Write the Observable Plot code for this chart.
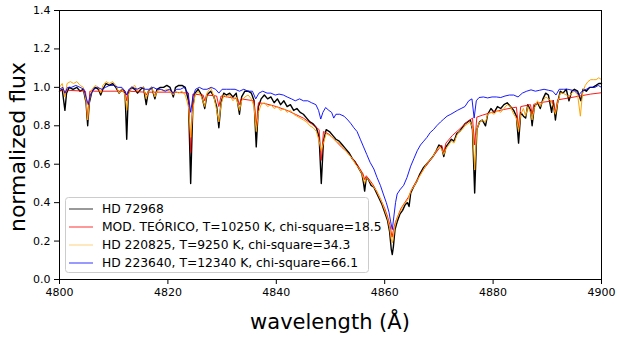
<!DOCTYPE html>
<html><head><meta charset="utf-8">
<script src="https://cdn.jsdelivr.net/npm/d3@7"></script>
<script src="https://cdn.jsdelivr.net/npm/@observablehq/plot@0.6"></script>
<style>body{margin:0;background:#fff;} #chart{width:622px;height:339px;}</style>
</head><body><div id="chart"></div>
<script>
const xTicks = [4800, 4820, 4840, 4860, 4880, 4900];
const yTicks = [0.0, 0.2, 0.4, 0.6, 0.8, 1.0, 1.2, 1.4];
const xLabel = "wavelength (Å)";
const yLabel = "normalized flux";
const seriesNames = [
  "HD 72968",
  "MOD. TEÓRICO, T=10250 K, chi-square=18.5",
  "HD 220825, T=9250 K, chi-square=34.3",
  "HD 223640, T=12340 K, chi-square=66.1"
];

// [wavelength, normalized flux]
const hd72968 = [[4800.0,0.98],[4800.5,0.99],[4801.0,0.88],[4801.3,0.97],[4801.8,1.00],[4802.5,0.99],[4803.2,1.00],[4803.8,0.98],[4804.4,0.99],[4804.9,0.92],[4805.2,0.80],[4805.5,0.92],[4806.0,0.98],[4806.6,1.00],[4807.2,0.99],[4807.6,0.96],[4808.0,0.99],[4808.6,1.02],[4809.2,1.01],[4809.8,1.02],[4810.4,1.00],[4811.0,0.97],[4811.5,0.99],[4812.1,0.97],[4812.4,0.73],[4812.7,0.97],[4813.3,1.00],[4813.9,0.99],[4814.4,0.97],[4815.0,0.99],[4815.5,1.00],[4816.0,0.91],[4816.4,0.98],[4817.0,1.00],[4817.6,0.94],[4818.0,0.99],[4818.6,1.00],[4819.2,1.00],[4819.8,1.01],[4820.4,1.00],[4821.0,0.95],[4821.4,1.00],[4822.0,1.01],[4822.6,1.01],[4823.2,1.00],[4823.8,0.93],[4824.2,0.50],[4824.6,0.90],[4825.0,0.97],[4825.6,0.99],[4826.2,0.96],[4826.8,0.89],[4827.2,0.96],[4827.9,0.98],[4828.5,0.95],[4829.0,0.90],[4829.4,0.79],[4829.8,0.92],[4830.3,0.97],[4830.8,0.96],[4831.4,0.97],[4832.0,0.95],[4832.6,0.97],[4833.2,0.86],[4833.6,0.95],[4834.2,0.98],[4834.8,0.98],[4835.4,0.97],[4835.9,0.93],[4836.3,0.69],[4836.7,0.90],[4837.2,0.94],[4837.8,0.96],[4838.4,0.94],[4839.0,0.95],[4839.6,0.92],[4840.2,0.94],[4840.8,0.91],[4841.4,0.93],[4842.0,0.90],[4842.6,0.91],[4843.2,0.88],[4843.8,0.89],[4844.4,0.87],[4845.0,0.86],[4845.6,0.84],[4846.2,0.82],[4846.8,0.81],[4847.4,0.79],[4847.9,0.74],[4848.3,0.50],[4848.7,0.72],[4849.2,0.78],[4849.8,0.77],[4850.4,0.75],[4851.0,0.73],[4851.6,0.72],[4852.2,0.70],[4852.8,0.68],[4853.4,0.66],[4854.0,0.63],[4854.6,0.61],[4855.2,0.58],[4855.8,0.55],[4856.1,0.50],[4856.3,0.46],[4856.6,0.53],[4857.0,0.52],[4857.5,0.49],[4858.0,0.48],[4858.5,0.45],[4859.0,0.42],[4859.5,0.39],[4860.0,0.35],[4860.5,0.31],[4860.9,0.25],[4861.2,0.16],[4861.4,0.13],[4861.6,0.17],[4861.9,0.26],[4862.3,0.30],[4862.8,0.34],[4863.3,0.36],[4863.8,0.39],[4864.2,0.40],[4864.5,0.38],[4864.8,0.45],[4865.3,0.48],[4865.9,0.51],[4866.5,0.55],[4867.1,0.58],[4867.7,0.60],[4868.3,0.62],[4868.9,0.64],[4869.5,0.67],[4870.0,0.70],[4870.5,0.69],[4870.9,0.64],[4871.3,0.69],[4871.8,0.71],[4872.3,0.73],[4872.8,0.72],[4873.3,0.76],[4873.8,0.77],[4874.3,0.79],[4874.8,0.81],[4875.3,0.82],[4875.8,0.83],[4876.2,0.78],[4876.6,0.45],[4877.0,0.78],[4877.5,0.82],[4878.0,0.83],[4878.6,0.80],[4879.0,0.86],[4879.6,0.89],[4880.2,0.87],[4880.8,0.90],[4881.4,0.89],[4882.0,0.91],[4882.6,0.92],[4883.2,0.90],[4883.8,0.88],[4884.3,0.85],[4884.7,0.71],[4885.1,0.87],[4885.6,0.85],[4886.0,0.84],[4886.4,0.91],[4886.9,0.88],[4887.2,0.80],[4887.6,0.90],[4888.2,0.92],[4888.7,0.89],[4889.2,0.94],[4889.7,0.97],[4890.2,0.96],[4890.8,0.87],[4891.1,0.93],[4891.5,0.83],[4891.9,0.92],[4892.4,0.98],[4892.9,0.97],[4893.5,0.99],[4894.0,0.93],[4894.5,0.98],[4895.0,0.99],[4895.6,0.98],[4896.2,0.93],[4896.6,0.99],[4897.2,0.98],[4897.8,1.00],[4898.4,1.00],[4899.0,1.01],[4899.5,1.02],[4900.0,1.02]];

const modelo = [[4800.0,0.985],[4800.8,0.985],[4801.0,0.96],[4801.3,0.985],[4804.8,0.98],[4805.2,0.83],[4805.6,0.98],[4812.1,0.98],[4812.4,0.93],[4812.7,0.98],[4815.8,0.975],[4816.0,0.96],[4816.3,0.975],[4821.0,0.975],[4823.8,0.97],[4824.2,0.66],[4824.6,0.965],[4826.5,0.96],[4826.8,0.93],[4827.1,0.96],[4829.0,0.955],[4829.4,0.90],[4829.8,0.955],[4831.0,0.95],[4832.9,0.94],[4833.2,0.91],[4833.5,0.94],[4835.9,0.93],[4836.3,0.80],[4836.7,0.92],[4838.0,0.915],[4840.0,0.90],[4842.0,0.88],[4843.5,0.86],[4845.0,0.84],[4846.5,0.81],[4847.9,0.78],[4848.3,0.62],[4848.7,0.77],[4849.7,0.757],[4851.0,0.72],[4852.0,0.69],[4853.0,0.665],[4854.0,0.63],[4855.0,0.595],[4856.0,0.55],[4856.3,0.52],[4856.6,0.54],[4857.7,0.50],[4858.5,0.46],[4859.2,0.42],[4860.0,0.37],[4860.5,0.33],[4861.0,0.28],[4861.35,0.22],[4861.7,0.27],[4862.0,0.30],[4863.0,0.37],[4864.4,0.43],[4865.0,0.47],[4866.0,0.52],[4867.2,0.575],[4868.4,0.62],[4869.6,0.665],[4870.5,0.70],[4870.9,0.66],[4871.3,0.71],[4872.5,0.75],[4873.7,0.78],[4875.2,0.82],[4876.2,0.84],[4876.6,0.70],[4877.0,0.845],[4878.0,0.855],[4880.0,0.872],[4882.0,0.885],[4884.3,0.897],[4884.7,0.79],[4885.1,0.90],[4886.9,0.91],[4887.2,0.86],[4887.5,0.912],[4889.0,0.922],[4891.1,0.93],[4891.5,0.87],[4891.9,0.935],[4894.0,0.945],[4896.0,0.955],[4898.0,0.965],[4900.0,0.972]];

const hd220825 = [[4800.0,1.00],[4800.5,1.02],[4801.0,0.95],[4801.4,1.02],[4802.0,1.03],[4802.6,1.02],[4803.2,1.03],[4803.8,1.01],[4804.4,1.00],[4804.9,0.93],[4805.2,0.83],[4805.5,0.93],[4806.0,0.99],[4806.6,1.01],[4807.2,1.00],[4807.6,0.97],[4808.0,1.01],[4808.6,1.03],[4809.2,1.02],[4809.8,1.03],[4810.4,1.01],[4811.0,0.97],[4811.5,0.99],[4812.1,0.96],[4812.4,0.88],[4812.7,0.96],[4813.3,1.00],[4813.9,1.01],[4814.4,0.98],[4815.0,1.00],[4815.5,1.00],[4816.0,0.94],[4816.4,0.98],[4817.0,1.00],[4817.6,0.95],[4818.0,0.98],[4818.6,0.99],[4819.2,0.98],[4819.8,0.99],[4820.4,0.98],[4821.0,0.96],[4821.4,0.98],[4822.0,0.97],[4822.6,0.98],[4823.2,0.96],[4823.8,0.90],[4824.2,0.74],[4824.6,0.88],[4825.0,0.96],[4825.6,0.98],[4826.2,0.95],[4826.8,0.90],[4827.2,0.97],[4827.9,1.00],[4828.5,0.95],[4829.0,0.88],[4829.4,0.82],[4829.8,0.91],[4830.3,0.96],[4830.8,0.95],[4831.4,0.96],[4832.0,0.93],[4832.6,0.95],[4833.2,0.88],[4833.6,0.93],[4834.2,0.95],[4834.8,0.96],[4835.4,0.94],[4835.9,0.90],[4836.3,0.77],[4836.7,0.87],[4837.2,0.91],[4837.8,0.92],[4838.4,0.90],[4839.0,0.91],[4839.6,0.89],[4840.2,0.90],[4840.8,0.88],[4841.4,0.89],[4842.0,0.87],[4842.6,0.88],[4843.2,0.86],[4843.8,0.85],[4844.4,0.84],[4845.0,0.83],[4845.6,0.82],[4846.2,0.80],[4846.8,0.79],[4847.4,0.77],[4847.9,0.72],[4848.3,0.67],[4848.7,0.71],[4849.2,0.76],[4849.8,0.75],[4850.4,0.74],[4851.0,0.72],[4851.6,0.71],[4852.2,0.69],[4852.8,0.67],[4853.4,0.65],[4854.0,0.63],[4854.6,0.60],[4855.2,0.58],[4855.8,0.55],[4856.3,0.50],[4856.6,0.53],[4857.0,0.52],[4857.5,0.50],[4858.0,0.48],[4858.5,0.46],[4859.0,0.43],[4859.5,0.40],[4860.0,0.36],[4860.5,0.32],[4860.9,0.27],[4861.2,0.21],[4861.4,0.19],[4861.6,0.22],[4861.9,0.28],[4862.3,0.32],[4862.8,0.35],[4863.3,0.38],[4863.8,0.40],[4864.4,0.42],[4864.8,0.46],[4865.3,0.48],[4865.9,0.51],[4866.5,0.54],[4867.1,0.57],[4867.7,0.60],[4868.3,0.62],[4868.9,0.64],[4869.5,0.67],[4870.0,0.69],[4870.5,0.68],[4870.9,0.65],[4871.3,0.68],[4871.8,0.70],[4872.3,0.72],[4872.8,0.71],[4873.3,0.75],[4873.8,0.77],[4874.3,0.78],[4874.8,0.80],[4875.3,0.81],[4875.8,0.82],[4876.2,0.79],[4876.6,0.57],[4877.0,0.78],[4877.5,0.82],[4878.0,0.83],[4878.6,0.82],[4879.0,0.86],[4879.6,0.87],[4880.2,0.86],[4880.8,0.88],[4881.4,0.87],[4882.0,0.89],[4882.6,0.91],[4883.2,0.90],[4883.8,0.86],[4884.3,0.84],[4884.7,0.77],[4885.1,0.86],[4885.6,0.89],[4886.0,0.85],[4886.4,0.90],[4886.9,0.87],[4887.2,0.83],[4887.6,0.89],[4888.2,0.93],[4888.7,0.90],[4889.2,0.93],[4889.7,0.95],[4890.2,0.94],[4890.7,0.93],[4891.1,0.90],[4891.5,0.86],[4891.9,0.92],[4892.4,0.97],[4892.9,0.97],[4893.5,0.96],[4894.0,0.95],[4894.5,0.97],[4895.0,0.98],[4895.6,0.96],[4896.1,0.85],[4896.5,0.97],[4897.0,1.01],[4897.5,1.03],[4898.0,1.04],[4898.5,1.04],[4899.0,1.04],[4899.5,1.05],[4900.0,1.04]];

const hd223640 = [[4800.0,0.99],[4800.6,1.00],[4801.0,0.97],[4801.5,1.00],[4802.2,1.00],[4803.0,1.01],[4803.8,1.00],[4804.5,0.99],[4805.0,0.94],[4805.3,0.91],[4805.7,0.96],[4806.3,0.99],[4807.0,1.00],[4807.8,0.99],[4808.5,1.00],[4809.2,1.01],[4810.0,1.01],[4810.8,1.00],[4811.5,1.00],[4812.1,0.98],[4812.4,0.96],[4812.8,0.99],[4813.5,1.00],[4814.3,0.99],[4815.0,1.00],[4815.8,0.99],[4816.5,0.99],[4817.3,1.00],[4818.0,0.99],[4818.8,0.99],[4819.5,0.98],[4820.3,0.99],[4821.0,0.97],[4821.6,0.99],[4822.3,0.99],[4823.0,1.00],[4823.7,0.97],[4824.2,0.87],[4824.6,0.95],[4825.1,0.99],[4825.8,1.00],[4826.5,0.99],[4827.2,0.99],[4828.0,1.00],[4828.8,0.99],[4829.4,0.97],[4830.0,0.99],[4830.8,0.99],[4831.6,0.99],[4832.4,0.99],[4833.2,0.98],[4834.0,0.99],[4834.8,0.98],[4835.6,0.98],[4836.2,0.94],[4836.8,0.97],[4837.5,0.98],[4838.3,0.97],[4839.0,0.97],[4839.8,0.96],[4840.5,0.965],[4841.3,0.96],[4842.0,0.95],[4842.8,0.94],[4843.5,0.93],[4844.3,0.94],[4845.0,0.93],[4845.8,0.93],[4846.5,0.92],[4847.3,0.91],[4847.8,0.88],[4848.2,0.835],[4848.6,0.87],[4849.1,0.895],[4849.7,0.88],[4850.2,0.87],[4850.6,0.84],[4851.0,0.86],[4851.7,0.86],[4852.5,0.85],[4853.2,0.83],[4853.8,0.81],[4854.3,0.79],[4854.9,0.77],[4855.5,0.73],[4856.1,0.69],[4856.7,0.65],[4857.3,0.61],[4858.0,0.575],[4858.6,0.53],[4859.2,0.49],[4859.8,0.44],[4860.3,0.40],[4860.8,0.35],[4861.1,0.30],[4861.4,0.26],[4861.7,0.33],[4862.0,0.40],[4862.3,0.445],[4862.9,0.47],[4863.5,0.49],[4864.1,0.53],[4864.8,0.59],[4865.4,0.63],[4866.0,0.67],[4866.6,0.70],[4867.2,0.72],[4867.8,0.74],[4868.4,0.765],[4869.0,0.78],[4869.6,0.80],[4870.3,0.82],[4870.9,0.835],[4871.5,0.85],[4872.2,0.86],[4872.8,0.87],[4873.4,0.88],[4874.1,0.89],[4874.8,0.90],[4875.5,0.93],[4876.1,0.94],[4876.5,0.84],[4876.9,0.93],[4877.4,0.947],[4878.2,0.95],[4879.0,0.945],[4879.8,0.95],[4880.6,0.95],[4881.4,0.947],[4882.2,0.955],[4883.0,0.96],[4883.8,0.96],[4884.6,0.95],[4885.4,0.97],[4886.2,0.98],[4887.0,0.987],[4887.8,0.98],[4888.6,0.985],[4889.4,0.99],[4890.2,0.985],[4891.0,0.98],[4891.6,0.96],[4892.2,0.99],[4893.0,0.99],[4893.8,0.99],[4894.6,0.985],[4895.3,0.98],[4895.8,0.96],[4896.4,0.98],[4897.2,0.99],[4898.0,1.00],[4898.8,1.00],[4899.4,1.01],[4900.0,1.00]];

const allSeries = [hd72968, modelo, hd220825, hd223640];
const colors = ["#000000", "#ff0000", "#ffa500", "#0000ff"];
const widths = [1.4, 0.9, 1.0, 0.9];

const chart = Plot.plot({
  width: 622, height: 339,
  marginLeft: 59, marginRight: 21, marginTop: 10, marginBottom: 60,
  style: {fontFamily: "DejaVu Sans", fontSize: "11px", color: "black", background: "white", overflow: "visible"},
  x: {domain: [4800, 4900], label: null},
  y: {domain: [0, 1.4], label: null},
  marks: [
    ...allSeries.map((s, i) => Plot.line(s, {x: d => d[0], y: d => d[1], stroke: colors[i], strokeWidth: widths[i], strokeLinejoin: "round"})),
    Plot.frame({stroke: "black", strokeWidth: 1}),
    Plot.axisX({ticks: xTicks, tickSize: 5, tickPadding: 4, tickFormat: d => String(d), label: null, fontSize: 11}),
    Plot.axisY({ticks: yTicks, tickSize: 5, tickPadding: 4, tickFormat: d => d.toFixed(1), label: null, fontSize: 11})
  ]
});
document.getElementById("chart").appendChild(chart);

const svg = d3.select(chart);
// axis titles
svg.append("text").attr("x", 330).attr("y", 329).attr("text-anchor", "middle")
  .attr("font-family", "DejaVu Sans").attr("font-size", 21).attr("fill", "black").text(xLabel);
svg.append("text").attr("transform", "translate(17,147) rotate(-90)").attr("dy", "0.35em")
  .attr("text-anchor", "middle").attr("font-family", "DejaVu Sans").attr("font-size", 22)
  .attr("fill", "black").text(yLabel);

// legend (inside plot area, lower left)
const lg = svg.append("g").attr("font-family", "DejaVu Sans").attr("font-size", 12.3).attr("text-anchor", "start");
lg.append("rect").attr("x", 65.5).attr("y", 197.5).attr("width", 303).attr("height", 75)
  .attr("rx", 3).attr("fill", "white").attr("fill-opacity", 0.8).attr("stroke", "#cccccc");
seriesNames.forEach((name, i) => {
  const cy = 209 + i * 18;
  lg.append("line").attr("x1", 69).attr("x2", 93).attr("y1", cy).attr("y2", cy)
    .attr("stroke", colors[i]).attr("stroke-width", 1).attr("stroke-opacity", i === 2 ? 0.5 : 0.8);
  lg.append("text").attr("x", 102).attr("y", cy).attr("dy", "0.35em").attr("text-anchor", "start")
    .attr("fill", "black").text(name);
});
</script>
</body></html>
